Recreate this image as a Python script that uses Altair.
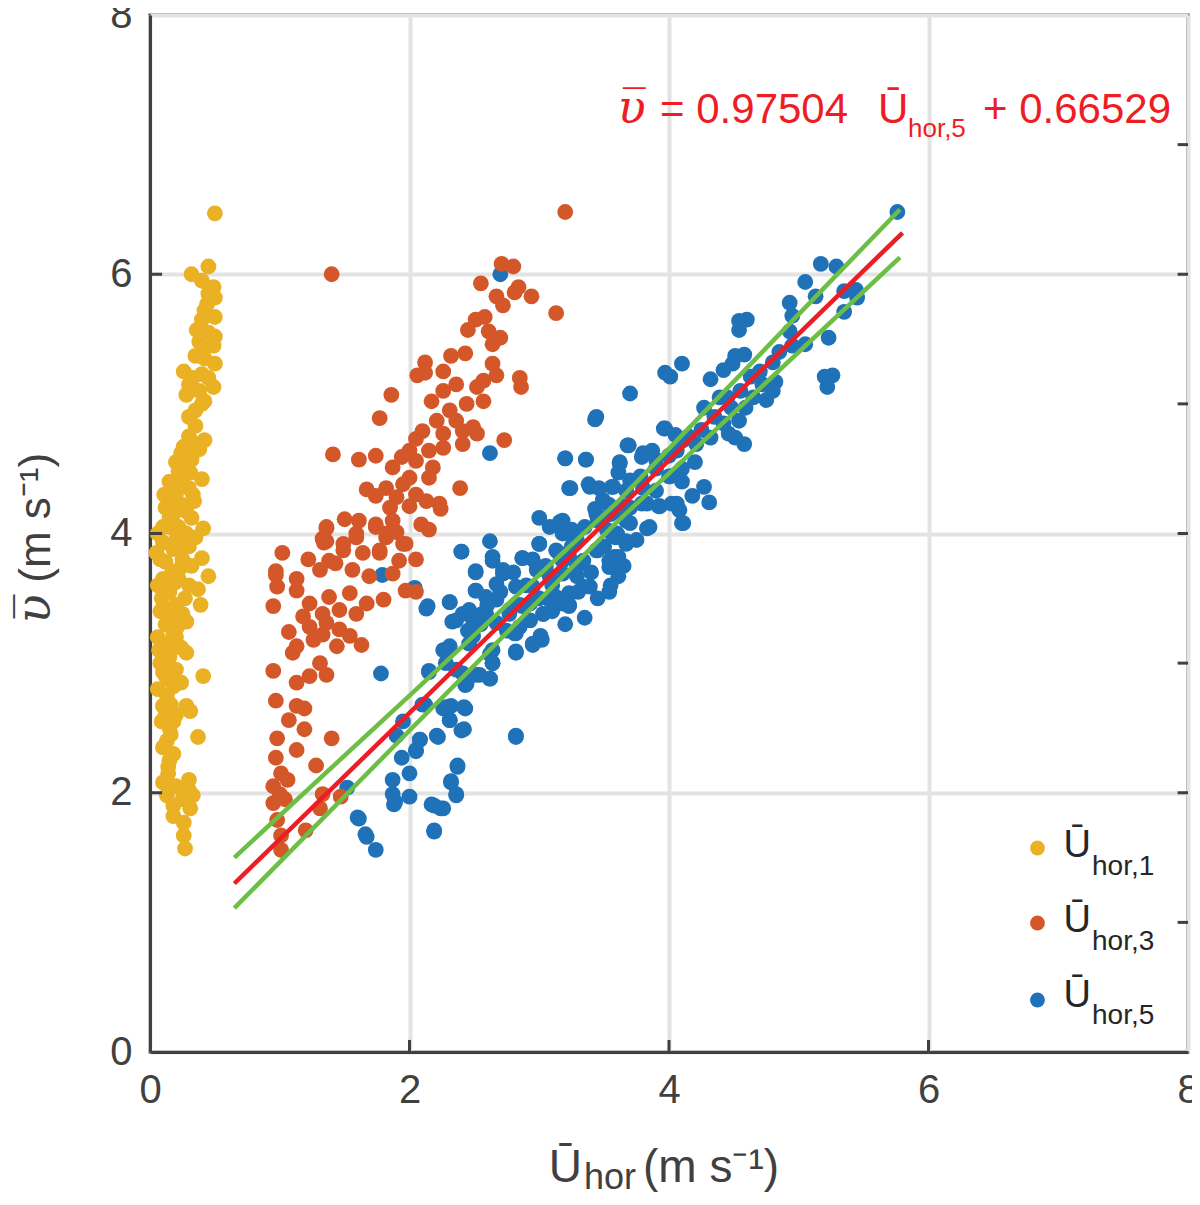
import altair as alt
import pandas as pd

# Series (x = U_hor, y = v)
u1_x = [0.50, 0.45, 0.32, 0.40, 0.49, 0.50, 0.44, 0.50, 0.40, 0.36, 0.50, 0.49, 0.42, 0.35, 0.50,
        0.26, 0.40, 0.49, 0.30, 0.42, 0.28, 0.30, 0.35, 0.42, 0.26, 0.23, 0.32, 0.31, 0.40, 0.18,
        0.33, 0.21, 0.28, 0.15, 0.10, 0.41, 0.23, 0.10, 0.40, 0.08, 0.45, 0.23, 0.10, 0.37, 0.39,
        0.10, 0.28, 0.12, 0.18, 0.28, 0.13, 0.10, 0.41, 0.15, 0.10, 0.28, 0.31, 0.09, 0.15, 0.37,
        0.13, 0.18, 0.14, 0.10, 0.30, 0.33, 0.13, 0.18, 0.31, 0.18, 0.26, 0.26, 0.27,
        0.20, 0.28, 0.24, 0.15, 0.25, 0.30, 0.20, 0.12, 0.18, 0.25, 0.32, 0.06, 0.15, 0.20, 0.28,
        0.35, 0.05, 0.12, 0.18, 0.25, 0.32, 0.06, 0.15, 0.22, 0.30, 0.27, 0.08, 0.15, 0.20, 0.25,
        0.06, 0.12, 0.20, 0.24, 0.08, 0.15, 0.20, 0.12, 0.06, 0.13, 0.18, 0.12, 0.18, 0.16, 0.10,
        0.15, 0.20, 0.14, 0.20, 0.25, 0.30, 0.30, 0.35, 0.38, 0.33, 0.42, 0.38, 0.30, 0.40, 0.45,
        0.45, 0.42, 0.45, 0.38,
        0.22, 0.33, 0.17, 0.27, 0.09, 0.21, 0.30, 0.14, 0.24, 0.07, 0.19, 0.11, 0.22, 0.16, 0.34]
u1_y = [6.47, 6.06, 6.00, 5.95, 5.90, 5.82, 5.77, 5.67, 5.65, 5.57, 5.52, 5.45, 5.43, 5.37, 5.31,
        5.25, 5.23, 5.13, 5.15, 5.02, 5.07, 4.90, 4.83, 4.72, 4.67, 4.57, 4.57, 4.47, 4.42, 4.37,
        4.30, 4.23, 4.17, 4.12, 4.05, 4.04, 4.03, 3.93, 3.81, 3.80, 3.67, 3.73, 3.65, 3.57, 3.45,
        3.43, 3.32, 3.30, 3.23, 3.08, 3.13, 2.93, 2.90, 2.87, 2.67, 2.67, 2.63, 2.55, 2.50, 2.43,
        2.40, 2.30, 2.20, 2.08, 2.10, 1.98, 1.98, 1.90, 1.88, 1.82, 1.77, 1.67, 1.57,
        4.55, 4.50, 4.62, 4.40, 4.42, 4.35, 4.30, 4.20, 4.15, 4.22, 4.12, 4.00, 4.05, 3.95, 4.00,
        3.97, 3.85, 3.78, 3.88, 3.80, 3.75, 3.60, 3.55, 3.65, 3.60, 3.50, 3.40, 3.35, 3.45, 3.38,
        3.20, 3.15, 3.20, 3.12, 3.00, 3.05, 2.95, 2.90, 2.80, 2.75, 2.82, 2.60, 2.55, 2.45, 2.35,
        2.25, 2.60, 2.15, 2.05, 1.95, 2.02, 4.75, 4.95, 5.10, 5.20, 5.35, 4.65, 4.60, 5.00, 5.20,
        5.55, 5.72, 5.85, 5.48,
        4.48, 4.70, 3.70, 3.90, 3.50, 3.28, 3.90, 3.00, 2.85, 3.10, 3.62, 4.30, 4.05, 2.68, 4.25]

u3_x = [3.20, 1.40, 2.71, 2.80, 2.55, 2.84, 2.94, 2.67, 2.81, 2.72, 3.13, 2.51, 2.58, 2.45, 2.61,
        2.70, 2.64, 2.32, 2.43, 2.12, 2.64, 2.26, 2.06, 2.12, 2.67, 2.85, 2.86, 2.57, 2.36, 2.52,
        1.86, 2.26, 2.17, 2.57, 2.44, 2.31, 1.77, 2.36, 2.21, 2.49, 2.41, 2.10, 2.26, 2.05, 2.73,
        2.52, 2.41, 2.26, 2.15, 1.41, 2.00, 1.61, 1.74, 1.94, 2.05, 2.18, 1.87, 2.15, 2.00, 2.39,
        1.67, 1.82, 1.95, 1.74, 1.90, 2.05, 2.13, 2.23, 1.85, 2.00, 2.24, 1.50, 1.61, 1.74, 1.87,
        2.09, 2.15, 1.36, 1.33, 1.59, 1.82, 1.90, 1.97, 1.34, 1.02, 1.22, 1.49, 1.64, 1.77, 2.05,
        1.92, 1.38, 0.97,
        1.36, 1.36, 1.49, 1.59, 1.74, 1.82, 1.95, 1.77, 0.97, 0.98, 1.13, 1.31, 1.43, 1.56, 1.69,
        1.87, 1.97, 2.05, 0.95, 1.13, 1.23, 1.38, 1.54, 1.67, 1.80, 1.18, 1.33, 1.46, 1.59, 1.07,
        1.23, 1.36, 1.46, 1.54, 1.63, 1.44, 1.33, 1.13, 1.26, 0.95, 1.10, 1.31, 1.23, 1.36, 1.13,
        0.97, 1.13, 1.19, 1.07, 1.19, 0.98, 1.40, 1.13, 0.97, 1.28, 1.01, 1.06, 0.95, 1.00, 0.95,
        1.04, 1.33, 1.47, 1.31, 0.98, 1.20, 1.01, 1.01]
u3_y = [6.48, 6.00, 6.08, 6.06, 5.93, 5.90, 5.83, 5.83, 5.86, 5.76, 5.70, 5.65, 5.67, 5.57, 5.56,
        5.51, 5.46, 5.37, 5.39, 5.32, 5.31, 5.25, 5.22, 5.24, 5.22, 5.20, 5.13, 5.18, 5.15, 5.13,
        5.07, 5.10, 5.02, 5.02, 5.00, 4.95, 4.89, 4.87, 4.87, 4.82, 4.79, 4.79, 4.77, 4.73, 4.72,
        4.77, 4.69, 4.66, 4.64, 4.61, 4.64, 4.57, 4.60, 4.59, 4.56, 4.51, 4.51, 4.43, 4.43, 4.35,
        4.34, 4.35, 4.38, 4.29, 4.28, 4.30, 4.25, 4.23, 4.20, 4.21, 4.19, 4.11, 4.10, 4.07, 4.10,
        4.07, 4.03, 4.05, 3.96, 3.97, 4.00, 4.01, 3.92, 3.93, 3.85, 3.80, 3.87, 3.85, 3.87, 3.80,
        3.79, 3.79, 3.71,
        4.04, 3.94, 3.92, 4.00, 4.05, 3.97, 3.92, 3.85, 3.68, 3.59, 3.65, 3.72, 3.77, 3.72, 3.67,
        3.69, 3.56, 3.55, 3.44, 3.56, 3.46, 3.51, 3.54, 3.46, 3.49, 3.36, 3.38, 3.41, 3.38, 3.24,
        3.28, 3.31, 3.26, 3.21, 3.14, 3.13, 3.22, 3.13, 3.18, 2.94, 3.08, 3.00, 2.90, 2.91, 2.85,
        2.71, 2.67, 2.65, 2.56, 2.49, 2.42, 2.42, 2.33, 2.27, 2.21, 2.15, 2.10, 2.05, 1.99, 1.92,
        1.95, 1.99, 1.97, 1.88, 1.79, 1.71, 1.67, 1.56]

u5_x = [2.40, 2.62, 1.79, 2.04, 2.14, 2.31, 2.51, 2.51, 2.64, 2.72, 2.87, 3.00, 3.08, 3.18, 3.29,
        3.29, 3.18, 3.05, 2.95, 3.08, 3.18, 3.23, 3.34, 2.67, 2.59, 2.46, 2.36, 2.56, 2.67, 2.77,
        2.87, 2.93, 3.03, 2.82, 2.95, 3.01, 2.82, 2.64, 2.49, 2.26, 2.31, 2.15, 2.28, 2.41, 2.51,
        2.62, 2.64, 2.43, 1.78, 2.26, 2.32, 2.31, 2.43, 2.42, 2.12, 1.95, 1.90, 2.08, 2.05, 2.21,
        1.94, 2.00, 2.37, 2.32, 2.36, 1.87, 1.87, 2.00, 1.88, 2.17, 2.24, 2.19, 2.82, 1.52, 1.60,
        1.66, 1.74,
        3.44, 2.62, 3.20, 3.36, 3.97, 3.68, 3.62, 3.80, 3.90, 4.06, 4.11, 3.23, 3.39, 3.57, 3.70,
        4.01, 3.49, 3.44, 3.65, 3.83, 3.93, 4.06, 4.11, 3.85, 3.67, 3.00, 3.16, 3.23, 3.52, 3.59,
        3.67, 3.58, 3.44, 3.34, 3.23, 3.13, 3.00, 2.87, 2.98, 3.08, 3.18, 3.29, 3.39, 3.54, 3.61,
        3.54, 3.23, 3.23, 3.13, 3.03, 2.93, 2.82, 2.72, 2.64, 2.40, 2.51, 2.51, 2.41, 2.49, 2.59,
        2.67, 2.77, 2.85, 2.81, 2.82, 2.95, 3.02, 2.31, 2.13, 2.33, 2.27, 2.46, 2.62, 2.64, 2.54,
        2.44, 2.15, 2.36, 2.62, 2.28, 2.42, 2.31, 2.40, 2.10, 2.08, 2.22, 2.05, 2.82, 2.37, 2.32,
        2.36, 1.89, 2.19, 2.26, 2.19, 1.61, 1.67,
        5.76, 5.17, 5.29, 5.05, 5.13, 5.35, 5.44, 5.45, 4.93, 5.35, 4.95, 4.54, 4.60, 4.54, 4.93,
        5.23, 5.05, 4.51, 4.58, 4.80, 5.20, 5.26, 5.22, 3.97, 4.01, 4.10, 4.32, 4.42, 4.49, 4.63,
        4.72, 4.82, 4.75, 4.80, 3.70, 4.27, 4.39, 4.48, 4.59, 4.54, 3.43, 4.42, 4.46, 4.58, 4.51,
        4.32, 4.21, 3.96, 4.05, 3.69, 3.20, 3.36, 3.87, 3.79, 3.62, 3.61, 4.00, 4.10, 3.78, 3.90,
        4.02, 4.18, 4.27, 4.31, 4.08, 4.10, 3.92, 3.83, 3.24, 3.38, 3.46, 3.56, 3.67, 3.43, 3.54,
        3.64, 3.70, 3.79, 3.18, 3.25, 3.56, 3.67, 3.45, 3.61, 3.54, 2.70,
        2.80, 2.90, 3.00, 3.10, 2.95, 3.05, 3.15, 3.25, 3.35, 3.45, 3.55, 3.30, 3.40, 3.50, 3.60,
        3.70, 3.80, 2.70, 2.60, 2.75, 2.85, 3.10, 3.20, 3.35, 3.45, 3.55, 3.65, 3.75, 3.90, 4.00,
        4.15, 4.25, 4.35, 4.45, 4.55, 4.65, 4.70, 4.85, 4.95, 4.10, 4.20, 2.55, 2.45]
u5_y = [3.86, 3.94, 3.68, 3.58, 3.44, 3.47, 3.71, 3.56, 3.79, 3.72, 3.81, 3.92, 4.05, 4.00, 3.95,
        3.74, 3.79, 3.72, 3.59, 3.49, 3.46, 3.44, 3.59, 3.61, 3.51, 3.41, 3.33, 3.38, 3.31, 3.41,
        3.44, 3.33, 3.38, 3.23, 3.15, 3.21, 3.08, 3.10, 3.21, 3.10, 3.13, 2.94, 3.00, 2.92, 2.91,
        2.88, 3.00, 2.83, 2.92, 2.65, 2.67, 2.56, 2.65, 2.49, 2.68, 2.55, 2.44, 2.41, 2.32, 2.44,
        2.27, 2.15, 2.21, 2.09, 1.99, 2.10, 1.99, 1.97, 1.91, 1.91, 1.88, 1.71, 2.44, 2.04, 1.81,
        1.68, 1.56,
        4.90, 4.62, 4.58, 4.57, 4.81, 4.68, 4.54, 4.62, 4.57, 4.64, 4.72, 4.35, 4.36, 4.36, 4.41,
        4.44, 4.26, 4.15, 4.21, 4.23, 4.21, 4.23, 4.08, 4.05, 4.10, 4.12, 4.09, 4.00, 4.03, 3.97,
        3.92, 3.82, 3.87, 3.79, 3.82, 3.87, 3.92, 3.81, 3.72, 3.67, 3.69, 3.67, 3.59, 3.74, 3.67,
        3.55, 3.54, 3.45, 3.51, 3.38, 3.46, 3.59, 3.69, 3.82, 3.86, 3.70, 3.56, 3.38, 3.33, 3.38,
        3.49, 3.38, 3.28, 3.23, 3.09, 3.14, 3.18, 3.47, 3.42, 3.32, 3.10, 3.15, 3.07, 3.00, 2.91,
        2.84, 2.93, 2.95, 2.88, 2.66, 2.66, 2.56, 2.48, 2.68, 2.41, 2.43, 2.33, 2.43, 2.20, 2.08,
        1.98, 1.93, 1.90, 1.88, 1.70, 1.80, 1.66,
        6.48, 6.08, 6.06, 5.94, 5.83, 5.87, 5.88, 5.82, 5.78, 5.71, 5.68, 5.64, 5.65, 5.57, 5.56,
        5.51, 5.46, 5.37, 5.38, 5.32, 5.21, 5.22, 5.13, 5.24, 5.21, 5.31, 5.19, 5.26, 5.31, 5.21,
        5.15, 5.17, 5.03, 5.10, 5.08, 4.97, 5.05, 4.97, 4.97, 4.87, 4.88, 4.85, 4.77, 4.69, 4.74,
        4.74, 4.69, 4.81, 4.76, 4.68, 4.58, 4.57, 4.64, 4.59, 4.55, 4.47, 4.44, 4.50, 4.44, 4.33,
        4.23, 4.29, 4.36, 4.24, 4.18, 4.08, 4.21, 4.04, 4.35, 4.38, 4.35, 4.36, 4.33, 4.19, 4.22,
        4.15, 4.08, 4.23, 4.10, 4.03, 4.00, 3.94, 3.87, 3.82, 3.79, 6.00,
        3.70, 3.60, 3.50, 3.60, 3.80, 3.75, 3.85, 3.90, 4.05, 4.10, 4.15, 3.55, 3.70, 3.90, 4.00,
        4.20, 4.35, 3.55, 3.45, 3.25, 3.45, 3.40, 3.30, 3.35, 3.50, 3.60, 3.75, 3.95, 4.50, 4.60,
        4.75, 4.80, 4.90, 5.05, 5.10, 5.05, 5.25, 5.40, 5.45, 4.40, 4.55, 3.30, 3.25]

# fit line and its bounds, read at the ends of the drawn lines
fit_x = [0.65, 5.80]
fit_y = [1.30, 6.32]
upper_x = [0.65, 2.00, 3.60, 5.78]
upper_y = [1.50, 2.75, 4.24, 6.50]
lower_x = [0.65, 2.00, 3.60, 5.78]
lower_y = [1.11, 2.48, 4.09, 6.13]

series_names = ["Ū_hor,1", "Ū_hor,3", "Ū_hor,5"]
series_colors = ["#E9B123", "#D4572A", "#1F72B8"]
tick_values = [0, 2, 4, 6, 8]

FONT = "Liberation Sans"
GREY = "#404040"
RED = "#EE1D25"
GREEN = "#6CBE45"

xs = alt.Scale(domain=[0, 8], nice=False, zero=False)
ys = alt.Scale(domain=[0, 8], nice=False, zero=False)
x_axis = alt.Axis(values=tick_values, title=None, ticks=False, tickSize=0, labelPadding=18,
                  labelFlush=False, labelOverlap=False, format="d")
y_axis = alt.Axis(values=tick_values, title=None, ticks=False, tickSize=0, labelPadding=18,
                  labelFlush=False, labelOverlap=False, format="d")


def xenc():
    return alt.X("x:Q", scale=xs, axis=x_axis)


def yenc():
    return alt.Y("y:Q", scale=ys, axis=y_axis)


def scatter(xv, yv, color):
    df = pd.DataFrame({"x": xv, "y": yv})
    return alt.Chart(df).mark_circle(size=250, opacity=1, color=color).encode(x=xenc(), y=yenc())


def line(xv, yv, color):
    df = pd.DataFrame({"x": xv, "y": yv})
    return alt.Chart(df).mark_line(color=color, strokeWidth=4.5).encode(x=xenc(), y=yenc())


def label(xv, yv, texts, size, color=GREY, align="left", font=FONT, style="normal", angle=0):
    df = pd.DataFrame({"x": xv, "y": yv, "t": texts})
    return alt.Chart(df).mark_text(align=align, baseline="alphabetic", fontSize=size, font=font,
                                   fontStyle=style, color=color, angle=angle).encode(
        x=xenc(), y=yenc(), text="t:N")


# inward ticks like the original box axes
left_ticks = pd.DataFrame({"x": [0, 0, 0], "x2": [0.093] * 3, "y": [2, 4, 6]})
right_ticks = pd.DataFrame({"x": [7.92] * 7, "x2": [8] * 7, "y": [1, 2, 3, 4, 5, 6, 7]})
bottom_ticks = pd.DataFrame({"x": [2, 4, 6], "y": [0, 0, 0], "y2": [0.093] * 3})

ticks_lr = alt.Chart(pd.concat([left_ticks, right_ticks])).mark_rule(color=GREY, strokeWidth=3).encode(
    x=xenc(), x2="x2:Q", y=yenc())
ticks_b = alt.Chart(bottom_ticks).mark_rule(color=GREY, strokeWidth=3).encode(
    x=xenc(), y=yenc(), y2="y2:Q")

# legend drawn inside the plot, lower right
leg_y = [1.574, 0.995, 0.401]
leg_df = pd.DataFrame({"x": [6.84] * 3, "y": leg_y, "s": series_names})
legend_pts = alt.Chart(leg_df).mark_circle(size=220, opacity=1).encode(
    x=xenc(), y=yenc(),
    color=alt.Color("s:N", scale=alt.Scale(domain=series_names, range=series_colors), legend=None))
legend_u = label([7.04] * 3, [1.505, 0.926, 0.347], ["Ū"] * 3, 38, color="#262626")
legend_sub = label([7.26] * 3, [1.366, 0.787, 0.216], ["hor,1", "hor,3", "hor,5"], 28, color="#262626")

# regression equation
eq_v = label([3.82], [7.168], ["\u03c5\u0305"], 46, color=RED, align="right",
             font="DejaVu Serif", style="italic")
eq_a = label([3.931], [7.168], ["= 0.97504"], 42, color=RED)
eq_u = label([5.611], [7.168], ["Ū"], 42, color=RED)
eq_s = label([5.842], [7.06], ["hor,5"], 26, color=RED)
eq_b = label([7.869], [7.168], ["+ 0.66529"], 42, color=RED, align="right")

# axis titles
xt_u = label([3.329], [-1.0], ["Ū"], 46, align="right")
xt_s = label([3.345], [-1.06], ["hor"], 36)
xt_r = label([3.80], [-1.0], ["(m s\u207b\u00b9)"], 46)
yt_r = label([-0.771], [3.62], ["(m s\u207b\u00b9)"], 44, angle=270)
yt_v = label([-0.771], [3.53], ["\u03c5\u0305"], 48, align="right", font="DejaVu Serif",
             style="italic", angle=270)

chart = alt.layer(
    scatter(u5_x, u5_y, series_colors[2]),
    scatter(u3_x, u3_y, series_colors[1]),
    scatter(u1_x, u1_y, series_colors[0]),
    line(upper_x, upper_y, GREEN),
    line(lower_x, lower_y, GREEN),
    line(fit_x, fit_y, RED),
    ticks_lr, ticks_b,
    legend_pts, legend_u, legend_sub,
    eq_v, eq_a, eq_u, eq_s, eq_b,
    xt_u, xt_s, xt_r, yt_r, yt_v,
).properties(
    width=1038, height=1037,
    autosize=alt.AutoSizeParams(type="none"),
    padding={"left": 142, "top": 7, "right": 4, "bottom": 145},
).configure_view(
    stroke=GREY, strokeWidth=3
).configure_axis(
    domainColor=GREY, domainWidth=3, gridColor="#E3E3E3", gridWidth=4,
    labelColor=GREY, labelFont=FONT, labelFontSize=40
)

chart.save("out.html", embed_options={"renderer": "svg", "actions": False})
